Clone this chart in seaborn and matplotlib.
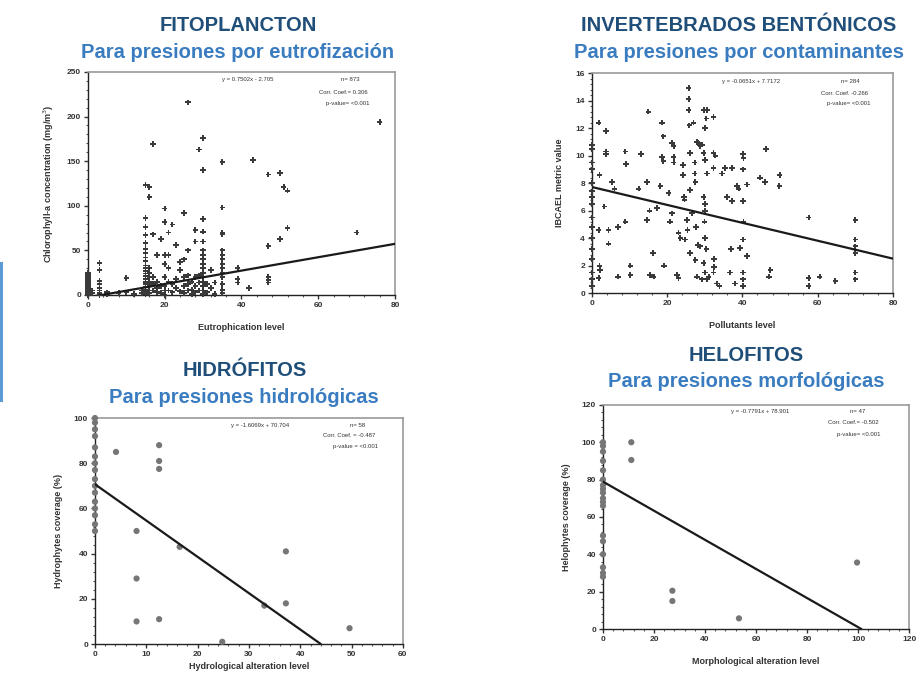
import numpy as np
import pandas as pd
import seaborn as sns
import matplotlib.pyplot as plt
from matplotlib.ticker import AutoMinorLocator
from matplotlib.patches import Rectangle

sns.set_style("white")
plt.rcParams['font.family'] = ['Liberation Sans', 'DejaVu Sans']

# FITOPLANCTON: eutrophication level vs chlorophyll-a
fito_x = [0, 0, 0, 0, 0, 0, 0, 0, 0, 0, 0, 0, 0, 0, 0,
          1, 1, 3, 3, 3, 3, 3, 3, 3, 3, 5, 5, 8, 10, 10, 12, 14, 14,
          15, 15, 15, 15, 15, 15, 15, 15, 15, 15, 15, 15, 15, 15, 15, 15, 15, 15, 15, 15, 15,
          16, 16, 16, 16, 16, 16, 16, 16, 16,
          17, 17, 17, 17, 17, 18, 18, 18, 18, 19, 19, 19,
          20, 20, 20, 20, 20, 20, 20, 20, 21, 21, 21, 21, 21,
          22, 22, 22, 23, 23, 23, 24, 24, 24, 25, 25, 25, 25, 25,
          26, 26, 26, 26, 26, 27, 27, 27, 28, 28, 28, 28, 28, 29, 29, 29, 29,
          30, 30, 30, 30, 30, 30, 30, 30, 30, 30, 30, 30, 30, 30, 30, 30,
          31, 31, 32, 32, 33, 33,
          35, 35, 35, 35, 35, 35, 35, 35, 35, 35, 35, 35, 35, 35,
          39, 39, 39, 42, 43, 47, 47, 47, 47, 47, 50, 50, 51, 52, 52, 70, 76]
fito_y = [0, 1, 2, 3, 5, 7, 8, 10, 12, 14, 16, 18, 20, 22, 25,
          2, 5, 36, 28, 16, 12, 8, 5, 2, 0, 1, 3, 2, 19, 3, 1, 5, 2,
          123, 86, 76, 67, 58, 52, 47, 42, 38, 33, 30, 27, 24, 21, 18, 15, 12, 9, 6, 3, 1,
          121, 110, 30, 25, 20, 15, 10, 5, 2,
          169, 68, 20, 12, 5, 45, 15, 8, 3, 63, 10, 2,
          97, 82, 45, 35, 20, 10, 5, 0, 70, 45, 30, 15, 5,
          79, 12, 3, 56, 18, 8, 37, 28, 4, 92, 40, 20, 10, 2,
          216, 50, 22, 12, 5, 15, 6, 1, 73, 60, 20, 10, 3, 163, 22, 14, 5,
          176, 140, 85, 71, 60, 50, 45, 40, 35, 30, 25, 20, 15, 10, 5, 1,
          12, 3, 28, 8, 14, 1,
          149, 98, 70, 68, 50, 45, 40, 35, 30, 25, 20, 12, 6, 2,
          30, 18, 14, 8, 151, 135, 55, 20, 17, 14, 137, 63, 121, 117, 75, 70, 194]
fito_line_x = [0, 80]
fito_fit = [0.7502, -2.705]

# INVERTEBRADOS BENTONICOS: pollutants level vs metric value
bent_x = [0, 0, 0, 0, 0, 0, 0, 0, 0, 0, 0, 0, 0, 0, 0, 0,
          1.8, 2, 1.8, 2, 2.1, 1.8, 3.7, 3.7, 3.7, 3.3, 4.4, 4.4, 5.3, 6,
          7, 7, 8.9, 9, 8.9, 10.2, 10.2, 13, 12.4, 14.6, 15, 14.6, 15.3, 15.5, 16.4, 16.2,
          17.3, 18.2, 18.6, 19, 18.6, 19, 19.2, 20.4, 20.8, 21.3, 21.3, 21.7, 21.7, 21.7,
          22.6, 23, 23, 23.5, 24.2, 24.2, 24.4, 24.6, 25.2, 25.4, 24.8, 25.7, 25.7, 25.7,
          25.9, 26.1, 26.1, 26.6, 26.1, 27, 27.3, 27.3, 27.5, 27.7, 27.5, 27.9, 28.3, 28.8,
          29.2, 28.1, 28.8, 29.7, 30.6, 30.1, 30.4, 29.7, 30.1, 30.6, 29.7, 30.1, 30.1, 29.9,
          30.1, 30.4, 29.7, 30.1, 30.6, 27.9, 29.2, 31, 32.3, 33.2, 32.3, 32.3, 32.8, 32.3,
          32.5, 32.5, 33.9, 34.5, 35.4, 37.2, 35.9, 37.2, 36.9, 36.7, 38, 38.5, 39, 39.4,
          40.1, 40.1, 40.3, 40.1, 40.1, 40.3, 41.2, 41.2, 40.1, 40.1, 40.1, 44.7, 46, 46.3,
          47.4, 47, 49.9, 49.8, 57.6, 57.6, 57.6, 60.5, 64.7, 70, 70, 70, 70, 70, 70]
bent_y = [0.5, 1.0, 1.5, 2.5, 3.2, 4.0, 4.8, 5.5, 6.5, 7.0, 7.4, 8.0, 9.0, 9.5, 10.5, 10.8,
          12.4, 8.6, 4.6, 2.0, 1.7, 1.1, 11.8, 10.3, 10.1, 6.3, 4.6, 3.6, 8.1, 7.6,
          4.8, 1.2, 10.3, 9.4, 5.2, 2.0, 1.3, 10.1, 7.6, 8.1, 13.2, 5.3, 6.0, 1.3, 1.2, 2.9,
          6.2, 7.8, 12.4, 11.4, 9.9, 9.6, 2.0, 7.3, 5.2, 5.8, 10.9, 10.7, 9.9, 9.5,
          1.3, 1.1, 4.4, 4.0, 9.3, 8.6, 7.0, 6.8, 5.3, 4.6, 3.9, 14.9, 14.1, 13.3,
          12.2, 10.2, 7.5, 5.8, 2.9, 12.4, 9.5, 8.7, 8.1, 4.8, 2.4, 11.0, 10.9, 10.7,
          10.8, 3.5, 3.4, 13.3, 13.3, 12.0, 12.7, 10.2, 9.7, 8.7, 7.0, 6.5, 6.0, 5.2,
          4.0, 3.2, 2.2, 1.5, 1.0, 1.2, 1.0, 1.2, 1.5, 0.7, 12.8, 10.2, 10.0, 9.1,
          2.5, 1.9, 0.5, 8.7, 9.1, 9.1, 7.0, 6.7, 3.2, 1.5, 0.7, 7.8, 7.6, 3.3,
          3.9, 10.1, 9.8, 9.0, 6.7, 5.2, 7.9, 2.7, 1.5, 1.0, 0.5, 8.4, 8.1, 10.5,
          1.7, 1.2, 8.6, 7.8, 5.5, 1.1, 0.5, 1.2, 0.9, 5.3, 3.9, 3.4, 2.9, 1.5, 1.0]
bent_line_x = [0, 80]
bent_fit = [-0.0651, 7.7172]

# HIDROFITOS: hydrological alteration level vs hydrophytes coverage
hidro_x = [0, 0, 0, 0, 0, 0, 0, 0, 0, 0, 0, 0, 0, 0, 0, 0,
           4.1, 8.1, 8.1, 8.1, 12.5, 12.5, 12.5, 12.5, 16.5, 24.8, 33, 37.2, 37.2, 49.6]
hidro_y = [100, 98, 95, 92, 87, 83, 80, 77, 73, 70, 67, 63, 60, 57, 53, 50,
           85, 50, 29, 10, 88, 81, 77.5, 11, 43, 1, 17, 41, 18, 7]
hidro_line_x = [0, 44]
hidro_fit = [-1.6069, 70.704]

# HELOFITOS: morphological alteration level vs helophytes coverage
helo_x = [0, 0, 0, 0, 0, 0, 0, 0, 0, 0, 0, 0, 0, 0, 0, 0, 0, 0,
          11.1, 11.1, 27.2, 27.2, 53.3, 99.6]
helo_y = [100, 98, 95, 90, 85, 80, 77, 75, 73, 70, 68, 66, 50, 47, 40, 33, 30, 28,
          100, 90.5, 20.5, 15, 5.7, 35.6]
helo_line_x = [0, 101.3]
helo_fit = [-0.7791, 78.901]

panels = [
    dict(rect=[0.0954, 0.5643, 0.333, 0.3294], x=fito_x, y=fito_y, lx=fito_line_x, fit=fito_fit,
         xlim=(0, 80), ylim=(0, 250), xt=[0, 20, 40, 60, 80], yt=[0, 50, 100, 150, 200, 250],
         xlabel='Eutrophication level', ylabel='Chlorophyll-a concentration (mg/m$^3$)', xpad=10,
         title='FITOPLANCTON', sub='Para presiones por eutrofización', tx=0.258, ty=(0.963, 0.923),
         marker='P', size=16, color='#3a3a3a',
         ann=[('y = 0.7502x - 2.705', 0.52, 0.964, 'center'), ('n= 873', 0.886, 0.964, 'right'),
              ('Corr. Coef.= 0.306', 0.912, 0.91, 'right'), ('p-value= <0.001', 0.918, 0.857, 'right')]),
    dict(rect=[0.642, 0.567, 0.3265, 0.325], x=bent_x, y=bent_y, lx=bent_line_x, fit=bent_fit,
         xlim=(0, 80), ylim=(0, 16), xt=[0, 20, 40, 60, 80], yt=[0, 2, 4, 6, 8, 10, 12, 14, 16],
         xlabel='Pollutants level', ylabel='IBCAEL metric value', xpad=10,
         title='INVERTEBRADOS BENTÓNICOS', sub='Para presiones por contaminantes', tx=0.801, ty=(0.963, 0.923),
         marker='P', size=16, color='#3a3a3a',
         ann=[('y = -0.0651x + 7.7172', 0.53, 0.964, 'center'), ('n= 284', 0.89, 0.964, 'right'),
              ('Corr. Coef. -0.266', 0.917, 0.909, 'right'), ('p-value= <0.001', 0.924, 0.864, 'right')]),
    dict(rect=[0.103, 0.0487, 0.334, 0.3338], x=hidro_x, y=hidro_y, lx=hidro_line_x, fit=hidro_fit,
         xlim=(0, 60), ylim=(0, 100), xt=[0, 10, 20, 30, 40, 50, 60], yt=[0, 20, 40, 60, 80, 100],
         xlabel='Hydrological alteration level', ylabel='Hydrophytes coverage (%)', xpad=3,
         title='HIDRÓFITOS', sub='Para presiones hidrológicas', tx=0.265, ty=(0.452, 0.413),
         marker='o', size=20, color='#767676',
         ann=[('y = -1.6069x + 70.704', 0.536, 0.969, 'center'), ('n= 58', 0.877, 0.969, 'right'),
              ('Corr. Coef. = -0.487', 0.909, 0.922, 'right'), ('p-value = <0.001', 0.919, 0.873, 'right')]),
    dict(rect=[0.654, 0.0709, 0.332, 0.331], x=helo_x, y=helo_y, lx=helo_line_x, fit=helo_fit,
         xlim=(0, 120), ylim=(0, 120), xt=[0, 20, 40, 60, 80, 100, 120], yt=[0, 20, 40, 60, 80, 100, 120],
         xlabel='Morphological alteration level', ylabel='Helophytes coverage (%)', xpad=10,
         title='HELOFITOS', sub='Para presiones morfológicas', tx=0.809, ty=(0.475, 0.436),
         marker='o', size=20, color='#767676',
         ann=[('y = -0.7791x + 78.901', 0.513, 0.969, 'center'), ('n= 47', 0.856, 0.969, 'right'),
              ('Corr. Coef.= -0.502', 0.899, 0.92, 'right'), ('p-value= <0.001', 0.905, 0.866, 'right')]),
]

fig = plt.figure(figsize=(9.22, 6.77), dpi=100)

for p in panels:
    ax = fig.add_axes(p['rect'])
    df = pd.DataFrame({'x': p['x'], 'y': p['y']})
    sns.scatterplot(data=df, x='x', y='y', ax=ax, marker=p['marker'], s=p['size'],
                    color=p['color'], edgecolor='none', linewidth=0, clip_on=False, zorder=3)
    lx = np.array(p['lx'], dtype=float)
    line = pd.DataFrame({'x': lx, 'y': p['fit'][0] * lx + p['fit'][1]})
    sns.lineplot(data=line, x='x', y='y', ax=ax, color='#1a1a1a', linewidth=1.6, zorder=4)
    ax.set_xlim(*p['xlim'])
    ax.set_ylim(*p['ylim'])
    ax.set_xticks(p['xt'])
    ax.set_yticks(p['yt'])
    ax.xaxis.set_minor_locator(AutoMinorLocator(5))
    ax.yaxis.set_minor_locator(AutoMinorLocator(5))
    ax.tick_params(axis='both', which='major', direction='out', length=3, width=1,
                   labelsize=6, labelcolor='#333333', color='#333333', pad=2, bottom=True, left=True)
    ax.tick_params(axis='both', which='minor', direction='out', length=1.5, width=0.8,
                   color='#555555', bottom=True, left=True)
    for lab in ax.get_xticklabels() + ax.get_yticklabels():
        lab.set_fontweight('bold')
    for side in ['left', 'bottom']:
        ax.spines[side].set_color('#222222')
        ax.spines[side].set_linewidth(1.0)
    for side in ['top', 'right']:
        ax.spines[side].set_color('#9a9a9a')
        ax.spines[side].set_linewidth(1.2)
    ax.set_xlabel(p['xlabel'], fontsize=6.5, fontweight='bold', color='#333333', labelpad=p['xpad'])
    ax.set_ylabel(p['ylabel'], fontsize=6.5, fontweight='bold', color='#333333', labelpad=8)
    for txt, ax_x, ax_y, ha in p['ann']:
        ax.text(ax_x, ax_y, txt, transform=ax.transAxes, fontsize=4.3, ha=ha, va='center',
                color='#333333')
    fig.text(p['tx'], p['ty'][0], p['title'], fontsize=14.5, fontweight='bold', color='#1f4e79',
             ha='center', va='center')
    fig.text(p['tx'], p['ty'][1], p['sub'], fontsize=14.5, fontweight='bold', color='#3a7cc0',
             ha='center', va='center')

fig.patches.append(Rectangle((0, 1 - 402 / 677), 3 / 922, 140 / 677, transform=fig.transFigure,
                             facecolor='#5b9bd5', edgecolor='none'))

fig.savefig('out.png', dpi=100)
